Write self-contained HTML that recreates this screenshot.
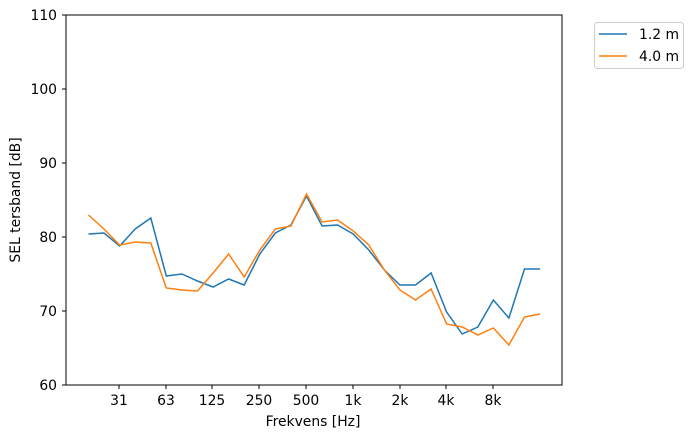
<!DOCTYPE html>
<html><head><meta charset="utf-8"><style>body{margin:0;background:#fff}svg{display:block}text{font-family:"DejaVu Sans","Liberation Sans",sans-serif;font-size:13.9px;fill:#000}</style></head><body>
<svg width="693" height="438" viewBox="0 0 693 438">
<rect width="693" height="438" fill="#fff"/>
<g stroke="#000" stroke-width="1">
<line x1="66" y1="311" x2="62" y2="311"/>
<line x1="66" y1="385" x2="62" y2="385"/><line x1="66" y1="237" x2="62" y2="237"/>
<line x1="66" y1="163" x2="62" y2="163"/><line x1="66" y1="89" x2="62" y2="89"/><line x1="66" y1="15" x2="62" y2="15"/>
<line x1="119" y1="385" x2="119" y2="389"/><line x1="166" y1="385" x2="166" y2="389"/><line x1="212" y1="385" x2="212" y2="389"/><line x1="259" y1="385" x2="259" y2="389"/><line x1="306" y1="385" x2="306" y2="389"/><line x1="353" y1="385" x2="353" y2="389"/><line x1="400" y1="385" x2="400" y2="389"/><line x1="446" y1="385" x2="446" y2="389"/><line x1="493" y1="385" x2="493" y2="389"/>
</g>
<g text-anchor="end"><text x="57" y="390">60</text><text x="57" y="316">70</text><text x="57" y="242">80</text><text x="57" y="168">90</text><text x="57" y="94">100</text><text x="57" y="20">110</text></g>
<g text-anchor="middle"><text x="119" y="405">31</text><text x="166" y="405">63</text><text x="212" y="405">125</text><text x="259" y="405">250</text><text x="306" y="405">500</text><text x="353" y="405">1k</text><text x="400" y="405">2k</text><text x="446" y="405">4k</text><text x="493" y="405">8k</text>
<text x="313" y="426">Frekvens [Hz]</text>
<text transform="translate(20,200) rotate(-90)">SEL tersband [dB]</text></g>
<polyline fill="none" stroke="#1f77b4" stroke-width="1.5" points="88.5,234 104,233 119.6,246 135.2,229 150.8,218 166.3,276 181.9,274 197.5,281 213.1,287 228.6,279 244.2,285 259.8,254 275.3,233 290.9,225 306.5,196 322.1,226 337.6,225 353.2,234 368.8,250 384.4,270 399.9,285 415.5,285 431.1,273 446.6,312 462.2,334 477.8,327 493.4,300 508.9,318 524.5,269 540.1,269"/>
<polyline fill="none" stroke="#ff7f0e" stroke-width="1.5" points="88.5,215 104,229 119.6,245 135.2,242 150.8,243 166.3,288 181.9,290 197.5,291 213.1,273 228.6,254 244.2,277 259.8,250 275.3,229 290.9,226 306.5,194 322.1,222 337.6,220 353.2,231 368.8,245 384.4,270 399.9,290 415.5,300 431.1,289 446.6,324 462.2,327 477.8,335 493.4,328 508.9,345 524.5,317 540.1,314"/>
<rect x="66" y="15" width="496" height="370" fill="none" stroke="#000"/>
<rect x="594.5" y="22.5" width="89" height="46" rx="3" fill="#fff" stroke="#ccc"/>
<line x1="599" y1="34" x2="627" y2="34" stroke="#1f77b4" stroke-width="1.5"/>
<line x1="599" y1="56" x2="627" y2="56" stroke="#ff7f0e" stroke-width="1.5"/>
<text x="639" y="39">1.2 m</text><text x="639" y="61">4.0 m</text>
</svg>
</body></html>
